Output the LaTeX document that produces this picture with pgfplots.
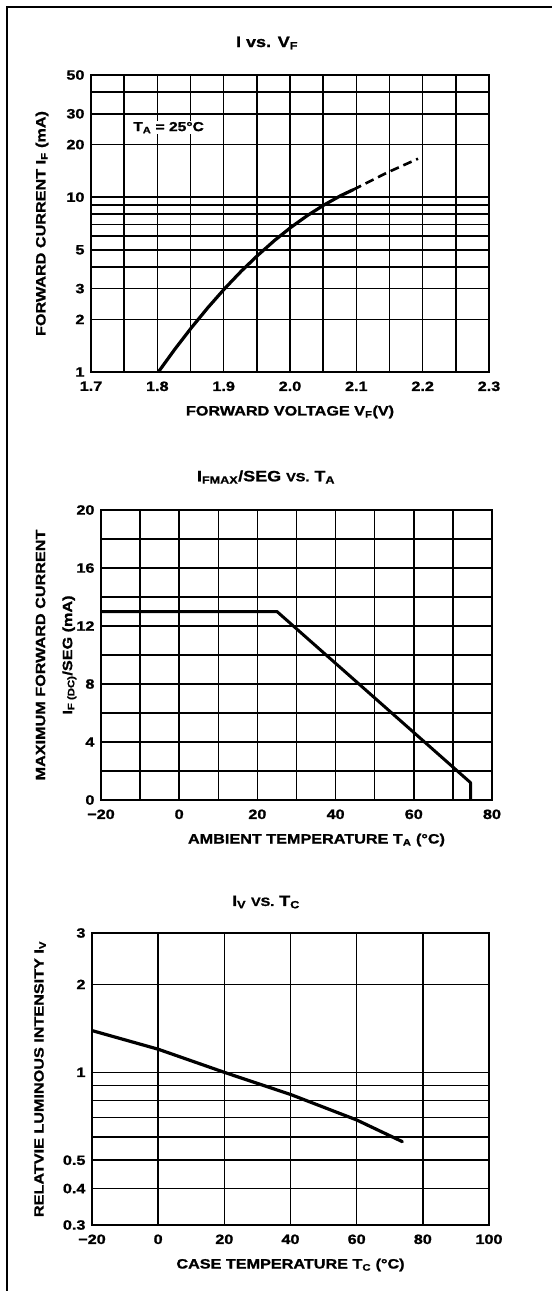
\documentclass[border=0pt]{standalone}
\usepackage{fontspec}
\setmainfont[FakeStretch=1.2, BoldFeatures={FakeBold=1.2}]{Liberation Sans}
\usepackage{pgfplots}
\pgfplotsset{compat=1.18}

\pgfplotsset{
  dsgrid/.style={
    scale only axis,
    anchor=south west,
    axis line style={line width=2pt},
    grid=both,
    major grid style={black, line width=1.5pt},
    minor grid style={black, line width=1.5pt},
    major tick length=0pt, minor tick length=0pt,
    tick label style={font=\fontsize{13.5}{15}\selectfont\bfseries},
    xticklabel style={yshift=-6pt},
    yticklabel style={xshift=-3pt},
    label style={font=\fontsize{13.5}{27}\selectfont\bfseries},
    xlabel style={at={(rel axis cs:0.5,0)}, anchor=center, yshift=-40pt},
    ylabel style={at={(rel axis cs:0,0.5)}, anchor=center, align=center},
  },
  curve/.style={black, line width=3.2pt, line join=round, line cap=round, mark=none},
}
\newcommand{\ttl}{\fontsize{15}{17}\selectfont\bfseries}

\begin{document}
\begin{tikzpicture}
\useasboundingbox (0,0) rectangle (552pt,-1291pt);
\draw[line width=1.6pt] (7pt,-1291pt) -- (7pt,-7pt) -- (552pt,-7pt);

% I vs. VF
\node[font=\ttl] at (267pt,-43pt) {I vs. V\textsubscript{F}};
\begin{axis}[dsgrid, at={(91pt,-372pt)}, width=398pt, height=297pt,
  xmin=1.7, xmax=2.3, ymode=log, ymin=1, ymax=50,
  xtick={1.7,1.8,1.9,2.0,2.1,2.2,2.3},
  xticklabels={1.7,1.8,1.9,2.0,2.1,2.2,2.3},
  minor xtick={1.75,1.85,1.95,2.05,2.15,2.25},
  ytick={1,2,3,5,10,20,30,50},
  yticklabels={1,2,3,5,10,20,30,50},
  minor ytick={4,6,7,8,9,40},
  xlabel={FORWARD VOLTAGE V\textsubscript{F}(V)},
  ylabel={FORWARD CURRENT I\textsubscript{F} (mA)},
  ylabel style={yshift=49pt},
]
\addplot[curve] coordinates {
  (1.8015,1.0) (1.8265,1.352) (1.8515,1.795) (1.8765,2.342) (1.9015,3.0)
  (1.9265,3.773) (1.9515,4.656) (1.9765,5.649) (2.0015,6.730)
  (2.0265,7.870) (2.0515,9.036) (2.0765,10.21) (2.095,11.02)
};
\addplot[black, line width=2.6pt, dash pattern=on 9pt off 5pt] coordinates {
  (2.095,11.02) (2.146,13.8) (2.193,16.6)
};
\node[fill=white, inner sep=1pt, font=\fontsize{13}{15}\selectfont\bfseries]
  at (axis cs:1.817,25) {T\textsubscript{A} = 25°C};
\end{axis}

% IFMAX/SEG vs. TA
\node[font=\ttl] at (266pt,-477pt) {I\textsubscript{FMAX}/SEG {\fontsize{12}{14}\selectfont VS.} T\textsubscript{A}};
\begin{axis}[dsgrid, at={(101pt,-800pt)}, width=391pt, height=290pt,
  xmin=-20, xmax=80, ymin=0, ymax=20,
  xtick={-20,0,20,40,60,80},
  xticklabels={−20,0,20,40,60,80},
  minor xtick={-10,10,30,50,70},
  ytick={0,4,8,12,16,20},
  yticklabels={0,4,8,12,16,20},
  minor ytick={2,6,10,14,18},
  xlabel={AMBIENT TEMPERATURE T\textsubscript{A} (°C)},
  xlabel style={xshift=20pt},
  ylabel={MAXIMUM FORWARD CURRENT\\I\textsubscript{F (DC)}/SEG (mA)},
  ylabel style={yshift=45pt},
]
\addplot[curve, line width=3pt, line cap=butt] coordinates {
  (-20,13) (25,13) (74.5,1.2) (74.5,0)
};
\end{axis}

% IV vs. TC
\node[font=\ttl] at (266pt,-902pt) {I\textsubscript{V} {\fontsize{12}{14}\selectfont VS.} T\textsubscript{C}};
\begin{axis}[dsgrid, at={(92pt,-1225pt)}, width=397pt, height=292pt,
  xmin=-20, xmax=100, ymode=log, ymin=0.3, ymax=3,
  xtick={-20,0,20,40,60,80,100},
  xticklabels={−20,0,20,40,60,80,100},
  ytick={0.3,0.4,0.5,1,2,3},
  yticklabels={0.3,0.4,0.5,1,2,3},
  minor ytick={0.6,0.7,0.8,0.9},
  xlabel={CASE TEMPERATURE T\textsubscript{C} (°C)},
  ylabel={RELATVIE LUMINOUS INTENSITY I\textsubscript{V}},
  ylabel style={yshift=52pt},
]
\addplot[curve] coordinates {
  (-20,1.39) (0,1.2) (20,1.0) (40,0.84) (60,0.687) (73.8,0.579)
};
\end{axis}
\end{tikzpicture}
\end{document}
